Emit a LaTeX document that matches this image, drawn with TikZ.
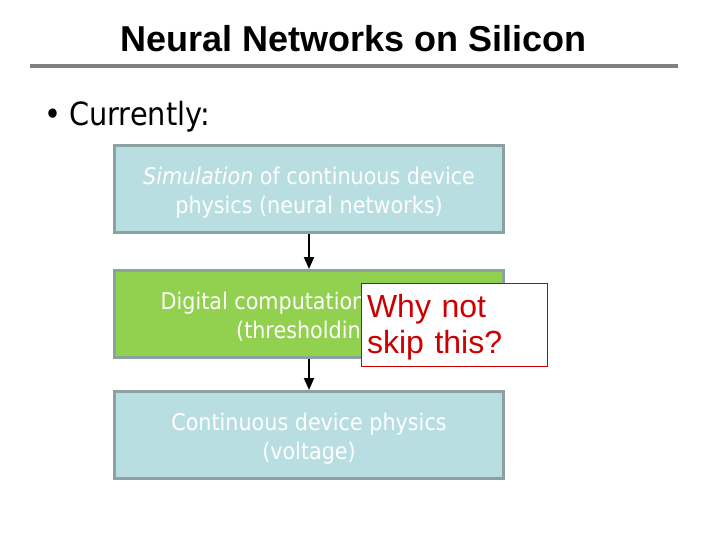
\documentclass[tikz,border=0pt]{standalone}
\usepackage{fontspec}
\setmainfont{DejaVu Sans}[FakeStretch=0.9]
\newfontfamily\arialfont{Liberation Sans}
\usetikzlibrary{arrows.meta}
\definecolor{boxblue}{RGB}{185,222,226}
\definecolor{boxgreen}{RGB}{146,208,80}
\definecolor{boxedge}{RGB}{140,162,162}
\definecolor{rulegray}{RGB}{128,128,128}
\definecolor{whyred}{RGB}{204,0,0}
\newcommand{\topstrut}[1]{\rule{0pt}{#1}}
\tikzset{
  flowbox/.style={draw=boxedge, line width=3pt, minimum width=389pt, minimum height=87pt,
    text=white, align=center, inner sep=0pt, font=\fontsize{23}{29}\selectfont},
  flowarrow/.style={-{Triangle[width=10pt,length=12pt]}, line width=2pt, black},
}
\begin{document}
\begin{tikzpicture}[x=1pt,y=-1pt]
\useasboundingbox (0,0) rectangle (720,540);
\node[anchor=base, inner sep=0pt, font=\arialfont\bfseries\fontsize{36}{40}\selectfont] (title) at (353.5,52) {Neural Networks on Silicon};
\draw[rulegray, line width=4pt] (30,66) -- (678,66);
\node[anchor=base west, inner sep=0pt, font=\fontsize{32}{36}\selectfont] (bullet) at (44,126) {•\hspace{8pt}Currently:};
\node[flowbox, fill=boxblue] (b1) at (309,189) {\topstrut{24pt}\textit{Simulation} of continuous device\\physics (neural networks)};
\node[flowbox, fill=boxgreen] (b2) at (309,314) {\topstrut{24pt}Digital computation\rule{92pt}{0pt}\\(thresholding)};
\node[flowbox, fill=boxblue] (b3) at (309,435) {\topstrut{24pt}Continuous device physics\\(voltage)};
\draw[flowarrow] (b1.south) -- (b2.north);
\draw[flowarrow] (b2.south) -- (b3.north);
\node[draw=whyred, fill=white, line width=1pt, minimum width=186pt, minimum height=83pt, text width=174pt,
  inner xsep=6pt, align=left, text=whyred, font=\arialfont\fontsize{32}{36}\selectfont] (why) at (454,324.5) {\topstrut{29pt}Why not\\skip this?};
\end{tikzpicture}
\end{document}
